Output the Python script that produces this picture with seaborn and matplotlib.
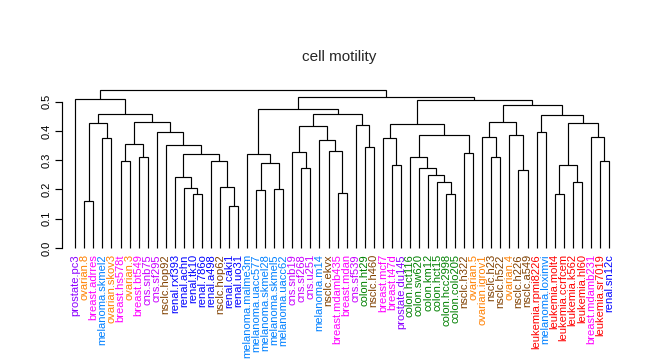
import matplotlib
matplotlib.use("Agg")
import matplotlib.pyplot as plt
import seaborn as sns
import numpy as np

# ---- data ----
labels = [
    "prostate.pc3", "ovarian.8", "breast.adrres", "melanoma.skmel2", "ovarian.skov3",
    "breast.hs578t", "ovarian.3", "breast.bt549", "cns.snb75", "cns.sf295",
    "nsclc.hop92", "renal.rxf393", "renal.achn", "renal.tk10", "renal.786o",
    "renal.a498", "nsclc.hop62", "renal.caki1", "renal.uo31", "melanoma.malme3m",
    "melanoma.uacc577", "melanoma.skmel28", "melanoma.skmel5", "melanoma.uacc62", "cns.snb19",
    "cns.sf268", "cns.u251", "melanoma.m14", "nsclc.ekvx", "breast.mdamb435",
    "breast.mdan", "cns.sf539", "colon.ht29", "nsclc.h460", "breast.mcf7",
    "breast.t47d", "prostate.du145", "colon.hct116", "colon.sw620", "colon.km12",
    "colon.hct15", "colon.hcc2998", "colon.colo205", "nsclc.h322", "ovarian.5",
    "ovarian.igrov1", "nsclc.h23", "nsclc.h522", "ovarian.4", "nsclc.h226",
    "nsclc.a549", "leukemia.rpmi8226", "melanoma.loximvi", "leukemia.molt4", "leukemia.ccrfcem",
    "leukemia.k562", "leukemia.hl60", "breast.mdamb231", "leukemia.sr7019", "renal.sn12c",
]

# merges (R hclust style): negative = leaf number, positive = earlier merge number
merge_left = [-2, -4, 1, -6, -8, 4, -14, -13, -12, -18,
              -17, -16, 9, -11, -10, 6, 3, -1, -21, -23,
              19, -20, -26, -25, -30, -29, -28, 24, -33, -32,
              28, 22, -36, -35, -42, -41, -40, -39, -38, -44,
              39, 34, -47, -46, -50, -49, 44, -52, -54, -56,
              49, -59, -58, 51, 48, 47, 42, 32, 18]
merge_right = [-3, -5, 2, -7, -9, 5, -15, 7, 8, -19,
               10, 11, 12, 13, 14, 15, 16, 17, -22, -24,
               20, 21, -27, 23, -31, 25, 26, 27, -34, 29,
               30, 31, -37, 33, -43, 35, 36, 37, 38, -45,
               40, 41, -48, 43, -51, 45, 46, -53, -55, -57,
               50, -60, 52, 53, 54, 55, 56, 57, 58]
merge_height = [0.159, 0.375, 0.426, 0.299, 0.312, 0.357, 0.186, 0.206, 0.241, 0.145,
                0.207, 0.299, 0.320, 0.351, 0.395, 0.429, 0.457, 0.509, 0.198, 0.200,
                0.292, 0.321, 0.275, 0.328, 0.188, 0.330, 0.368, 0.416, 0.344, 0.419,
                0.458, 0.474, 0.282, 0.375, 0.186, 0.224, 0.248, 0.275, 0.310, 0.323,
                0.386, 0.423, 0.310, 0.380, 0.268, 0.385, 0.429, 0.395, 0.186, 0.224,
                0.282, 0.299, 0.380, 0.426, 0.456, 0.488, 0.505, 0.515, 0.539]

yticks = [0.0, 0.1, 0.2, 0.3, 0.4, 0.5]
title = "cell motility"

tissue_colors = {
    "prostate": "#8c00ff", "ovarian": "#ff8000", "breast": "#ff00ff",
    "melanoma": "#0080ff", "cns": "#c800ff", "nsclc": "#804000",
    "renal": "#0000ff", "colon": "#008000", "leukemia": "#ff0000",
}

# ---- plotting ----
sns.set_theme(style="white")
plt.rcParams["font.family"] = ["Liberation Sans", "DejaVu Sans"]

W, H = 647, 360
fig = plt.figure(figsize=(W / 100, H / 100), dpi=100)
ax_l, ax_r, ax_t, ax_b = 62, 622, 85, 250
ax = fig.add_axes([ax_l / W, 1 - ax_b / H, (ax_r - ax_l) / W, (ax_b - ax_t) / H])

# leaf/node positions
def pos(ref):
    if ref < 0:
        return float(-ref), 0.0
    return node_x[ref - 1], merge_height[ref - 1]

node_x = []
for l, r, h in zip(merge_left, merge_right, merge_height):
    xl, yl = pos(l)
    xr, yr = pos(r)
    ax.plot([xl, xl, xr, xr], [yl, h, h, yr], color="black", lw=0.85,
            solid_capstyle="butt", solid_joinstyle="miter")
    node_x.append((xl + xr) / 2)

# scales: leaf 1 at px 75.3, spacing 9.044 px; y 0 at px 248, 292.6 px per unit
sp = 9.044
ax.set_xlim(1 + (ax_l - 75.3) / sp, 1 + (ax_r - 75.3) / sp)
ax.set_ylim((248 - ax_b) / 292.6, (248 - ax_t) / 292.6)

for s in ["top", "right", "bottom"]:
    ax.spines[s].set_visible(False)
ax.spines["left"].set_bounds(0, 0.5)
ax.spines["left"].set_color("black")
ax.spines["left"].set_linewidth(0.85)

ax.set_yticks(yticks)
ax.set_yticklabels([f"{v:.1f}" for v in yticks], rotation=90, va="center", fontsize=8)
ax.tick_params(axis="y", length=5, width=0.85, pad=2.5, colors="black", left=True)

ax.set_xticks(np.arange(1, len(labels) + 1))
ax.set_xticklabels(labels, rotation=90, fontsize=8)
ax.tick_params(axis="x", length=0, pad=3)
for t, lab in zip(ax.get_xticklabels(), labels):
    t.set_color(tissue_colors[lab.split(".")[0]])

fig.text(339 / W, 1 - 57 / H, title, ha="center", va="center", fontsize=11)

fig.savefig("out.png", dpi=100)
